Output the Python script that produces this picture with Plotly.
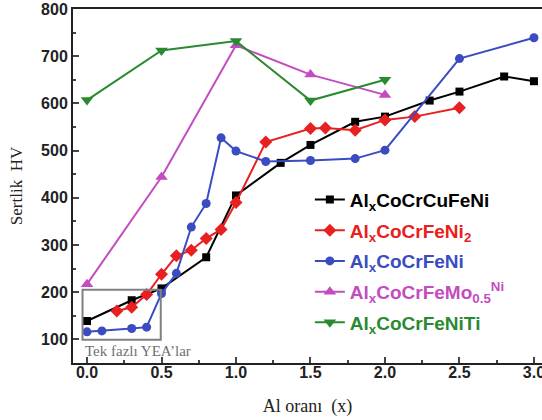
import plotly.graph_objects as go

# ---- data ----
x_cu = [0, 0.3, 0.5, 0.8, 1.0, 1.3, 1.5, 1.8, 2.0, 2.3, 2.5, 2.8, 3.0]
y_cu = [139, 183, 208, 274, 405, 474, 512, 561, 572, 606, 625, 657, 647]

x_ni2 = [0.2, 0.3, 0.4, 0.5, 0.6, 0.7, 0.8, 0.9, 1.0, 1.2, 1.5, 1.6, 1.8, 2.0, 2.2, 2.5]
y_ni2 = [160, 168, 195, 238, 277, 289, 314, 333, 390, 518, 547, 548, 543, 565, 572, 591]

x_ni = [0, 0.1, 0.3, 0.4, 0.5, 0.6, 0.7, 0.8, 0.9, 1.0, 1.2, 1.5, 1.8, 2.0, 2.5, 3.0]
y_ni = [116, 118, 123, 126, 197, 240, 338, 388, 527, 499, 477, 479, 483, 501, 695, 739]

x_mo = [0, 0.5, 1.0, 1.5, 2.0]
y_mo = [217, 444, 723, 661, 618]

x_ti = [0, 0.5, 1.0, 1.5, 2.0]
y_ti = [607, 712, 732, 606, 650]

names = [
    "Al<sub>x</sub>CoCrCuFeNi",
    "Al<sub>x</sub>CoCrFeNi<sub>2</sub>",
    "Al<sub>x</sub>CoCrFeNi",
    "Al<sub>x</sub>CoCrFeMo<sub>0.5</sub><sup>Ni</sup>",
    "Al<sub>x</sub>CoCrFeNiTi",
]
colors = ["#000000", "#e82020", "#3a4cc0", "#c44cc0", "#2a8a30"]
symbols = ["square", "diamond", "circle", "triangle-up", "triangle-down"]
msizes = [8, 10, 9, 11, 11]
xs = [x_cu, x_ni2, x_ni, x_mo, x_ti]
ys = [y_cu, y_ni2, y_ni, y_mo, y_ti]

# annotation box (single-phase HEAs)
box_x = [-0.03, 0.495]
box_y = [99, 205]
box_label = "Tek fazlı YEA’lar"

fig = go.Figure()
for i in range(5):
    fig.add_trace(go.Scatter(
        x=xs[i], y=ys[i], mode="lines+markers",
        name=f"<span style='color:{colors[i]}'>{names[i]}</span>",
        legendgroup=str(i),
        line=dict(color=colors[i], width=2),
        marker=dict(symbol=symbols[i], size=msizes[i], color=colors[i]),
    ))

fig.add_shape(type="rect", x0=box_x[0], x1=box_x[1], y0=box_y[0], y1=box_y[1],
              xref="x", yref="y", line=dict(color="#808080", width=2))
fig.add_annotation(x=box_x[0], y=75, xref="x", yref="y", text=box_label,
                   showarrow=False, xanchor="left", yanchor="middle",
                   font=dict(family="Liberation Serif", size=15, color="#707070"))

tickfont = dict(family="Liberation Sans", size=16, color="#222222", weight="bold")
fig.update_layout(
    width=542, height=420,
    margin=dict(l=73, r=0, t=9, b=57, autoexpand=False),
    paper_bgcolor="white", plot_bgcolor="white",
    showlegend=True,
    legend=dict(x=0.505, y=0.515, xanchor="left", yanchor="top",
                bgcolor="rgba(0,0,0,0)", tracegroupgap=3,
                font=dict(family="Liberation Sans", size=19, weight="bold")),
    xaxis=dict(range=[-0.094, 3.054], tickmode="linear", tick0=0, dtick=0.5,
               tickformat=".1f", ticks="inside", ticklen=6, tickwidth=1.5,
               minor=dict(dtick=0.25, ticks="inside", ticklen=3),
               showline=True, linecolor="#222222", linewidth=2, mirror=True,
               showgrid=False, zeroline=False, tickfont=tickfont, automargin=False,
               ticklabelstandoff=-6, ticklabeloverflow="allow",
               title=dict(text="Al oranı  (x)", standoff=19,
                          font=dict(family="Liberation Serif", size=18, color="#222222"))),
    yaxis=dict(range=[50, 800], tickmode="linear", tick0=0, dtick=100,
               ticks="inside", ticklen=6, tickwidth=1.5,
               minor=dict(dtick=50, ticks="inside", ticklen=3),
               showline=True, linecolor="#222222", linewidth=2,
               showgrid=False, zeroline=False, tickfont=tickfont, automargin=False,
               title=dict(text="Sertlik  HV", standoff=14,
                          font=dict(family="Liberation Serif", size=17, color="#222222"))),
)

fig.write_html("out.html", config={"displayModeBar": False},
               post_script="document.body.style.margin='0px';")
